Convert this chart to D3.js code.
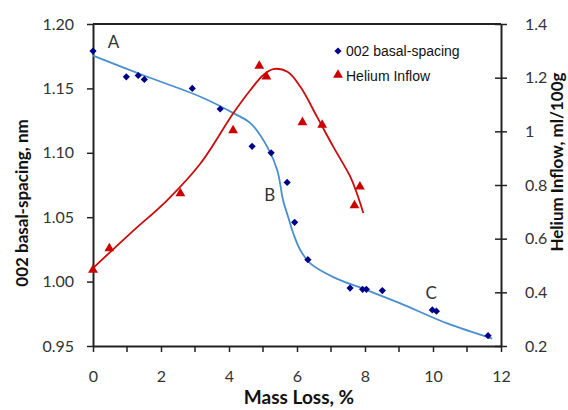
<!DOCTYPE html>
<html>

<head>
	<meta charset="utf-8">
	<title>Basal spacing and helium inflow</title>
	<style>
		body { margin: 0; background: #fff; }
		.tick text { font-family: Lato, "Open Sans", sans-serif; font-size: 16px; fill: #333; }
		.axis path, .axis line { stroke: #222; }
	</style>
</head>

<body>
	<svg width="568" height="410"></svg>

	<script src="https://cdnjs.cloudflare.com/ajax/libs/d3/7.8.5/d3.min.js"></script>
	<script>
		// 002 basal-spacing measurements
		var massLossD = [0, 0.98, 1.33, 1.51, 2.92, 3.74, 4.68, 5.24, 5.71, 5.93, 6.32, 7.56, 7.93, 8.04, 8.51, 9.98, 10.10, 11.62];
		var spacing = [1.179, 1.159, 1.160, 1.157, 1.150, 1.134, 1.105, 1.100, 1.077, 1.046, 1.017, 0.995, 0.994, 0.994, 0.993, 0.978, 0.977, 0.958];

		// helium inflow measurements
		var massLossHe = [0, 0.48, 2.57, 4.12, 4.89, 5.10, 6.16, 6.74, 7.69, 7.85];
		var helium = [0.48, 0.56, 0.765, 1.00, 1.24, 1.20, 1.03, 1.02, 0.72, 0.79];

		// fitted trend lines
		var fitDX = [0, 1.5, 3.16, 4.13, 4.63, 5.13, 5.42, 5.59, 5.74, 5.89, 6.10, 6.39, 7.07, 8.07, 9.04, 10.42, 11.74];
		var fitDY = [1.1755, 1.160, 1.1435, 1.1308, 1.123, 1.1044, 1.0865, 1.0632, 1.0502, 1.0375, 1.0243, 1.0142, 1.0035, 0.9932, 0.9831, 0.9675, 0.9558];
		var fitHX = [0, 1.1, 2.18, 3.16, 4.13, 4.63, 5.01, 5.30, 5.72, 6.10, 6.59, 7.07, 7.57, 7.76, 7.95];
		var fitHY = [0.49, 0.62, 0.743, 0.880, 1.068, 1.154, 1.210, 1.232, 1.222, 1.166, 1.054, 0.942, 0.830, 0.769, 0.696];

		// ticks
		var xTicks = [0, 2, 4, 6, 8, 10, 12];
		var xMinor = [1, 3, 5, 7, 9, 11];
		var leftTicks = [0.95, 1.00, 1.05, 1.10, 1.15, 1.20];
		var rightTicks = [0.2, 0.4, 0.6, 0.8, 1.0, 1.2, 1.4];
		var rightLabels = ["0.2", "0.4", "0.6", "0.8", "1", "1.2", "1.4"];

		var labels = [{ t: "A", x: 0.6, y: 1.1815 }, { t: "B", x: 5.2, y: 1.0625 }, { t: "C", x: 9.95, y: 0.9865 }];

		var svg = d3.select("svg");

		var margin = { top: 24, right: 67, bottom: 64, left: 93 };
		var width = +svg.attr("width") - margin.left - margin.right;
		var height = +svg.attr("height") - margin.top - margin.bottom;

		var x = d3.scaleLinear().domain([0, 12]).range([0, width]);
		var yL = d3.scaleLinear().domain([0.95, 1.20]).range([height, 0]);
		var yR = d3.scaleLinear().domain([0.2, 1.4]).range([height, 0]);

		var g = svg.append("g")
			.attr("transform", "translate(" + margin.left + "," + margin.top + ")");

		//top frame line
		g.append("line")
			.attr("x1", 0).attr("x2", width)
			.attr("y1", 0).attr("y2", 0)
			.attr("stroke", "#222").attr("stroke-width", 2);

		//x axis
		var xAxis = g.append("g")
			.attr("class", "axis")
			.attr("transform", "translate(0," + height + ")")
			.call(d3.axisBottom(x).tickValues(xTicks).tickSize(6).tickPadding(19).tickSizeOuter(0));
		xAxis.select(".domain").attr("stroke-width", 2);
		xAxis.selectAll(".tick line").attr("stroke-width", 1.5);
		g.selectAll(".xminor")
			.data(xMinor)
			.enter().append("line")
			.attr("class", "xminor")
			.attr("x1", function(d) { return x(d); })
			.attr("x2", function(d) { return x(d); })
			.attr("y1", height)
			.attr("y2", height + 6)
			.attr("stroke", "#222")
			.attr("stroke-width", 1.5);

		//left axis
		var lAxis = g.append("g")
			.attr("class", "axis")
			.call(d3.axisLeft(yL).tickValues(leftTicks).tickFormat(d3.format(".2f")).tickSize(6).tickPadding(13).tickSizeOuter(0));
		lAxis.select(".domain").attr("stroke-width", 2);
		lAxis.selectAll(".tick line").attr("stroke-width", 1.5);

		//right axis, ticks cross the line
		var rAxis = g.append("g")
			.attr("class", "axis")
			.attr("transform", "translate(" + width + ",0)")
			.call(d3.axisRight(yR).tickValues(rightTicks)
				.tickFormat(function(d, i) { return rightLabels[i]; })
				.tickSize(6).tickPadding(18).tickSizeOuter(0));
		rAxis.select(".domain").attr("stroke-width", 2);
		rAxis.selectAll(".tick line").attr("x1", -6).attr("stroke-width", 1.5);

		//fit curves
		var dLine = d3.line()
			.x(function(d, i) { return x(fitDX[i]); })
			.y(function(d, i) { return yL(d); })
			.curve(d3.curveCatmullRom);
		g.append("path")
			.attr("d", dLine(fitDY))
			.attr("fill", "none")
			.attr("stroke", "#4a8ed0")
			.attr("stroke-width", 1.8);

		var hLine = d3.line()
			.x(function(d, i) { return x(fitHX[i]); })
			.y(function(d, i) { return yR(d); })
			.curve(d3.curveCatmullRom);
		g.append("path")
			.attr("d", hLine(fitHY))
			.attr("fill", "none")
			.attr("stroke", "#cc0a0a")
			.attr("stroke-width", 1.8);

		//markers
		var diamond = d3.symbol().type(d3.symbolSquare).size(26);
		var triangle = d3.symbol().type(d3.symbolTriangle).size(42);

		g.selectAll(".dpt")
			.data(spacing)
			.enter().append("path")
			.attr("class", "dpt")
			.attr("d", diamond)
			.attr("transform", function(d, i) {
				return "translate(" + x(massLossD[i]) + "," + yL(d) + ") rotate(45)";
			})
			.attr("fill", "#000088");

		g.selectAll(".hpt")
			.data(helium)
			.enter().append("path")
			.attr("class", "hpt")
			.attr("d", triangle)
			.attr("transform", function(d, i) {
				return "translate(" + x(massLossHe[i]) + "," + (yR(d) - 1) + ")";
			})
			.attr("fill", "#cc0000");

		//point labels
		g.selectAll(".lbl")
			.data(labels)
			.enter().append("text")
			.attr("class", "lbl")
			.attr("x", function(d) { return x(d.x); })
			.attr("y", function(d) { return yL(d.y); })
			.attr("text-anchor", "middle")
			.attr("font-family", "Lato, sans-serif")
			.attr("font-size", 17)
			.attr("fill", "#333")
			.text(function(d) { return d.t; });

		//legend
		var legend = g.append("g").attr("transform", "translate(245,27)");
		legend.append("path").attr("d", diamond).attr("transform", "rotate(45)").attr("fill", "#000088");
		legend.append("text").attr("x", 8).attr("y", 5)
			.attr("font-family", "Liberation Sans, Arial, sans-serif").attr("font-size", 14).attr("fill", "#111")
			.text("002 basal-spacing");
		legend.append("path").attr("d", triangle).attr("transform", "translate(0,24)").attr("fill", "#cc0000");
		legend.append("text").attr("x", 8).attr("y", 30)
			.attr("font-family", "Liberation Sans, Arial, sans-serif").attr("font-size", 14).attr("fill", "#111")
			.text("Helium Inflow");

		//axis titles
		svg.append("text")
			.attr("x", 299)
			.attr("y", 404)
			.attr("text-anchor", "middle")
			.attr("font-family", "Lato, sans-serif")
			.attr("font-weight", "bold")
			.attr("font-size", 19)
			.attr("fill", "#111")
			.text("Mass Loss, %");

		svg.append("text")
			.attr("transform", "translate(28,203) rotate(-90)")
			.attr("text-anchor", "middle")
			.attr("font-family", "Lato, sans-serif")
			.attr("font-weight", "bold")
			.attr("font-size", 17)
			.attr("fill", "#111")
			.text("002 basal-spacing, nm");

		svg.append("text")
			.attr("transform", "translate(563,162) rotate(-90)")
			.attr("text-anchor", "middle")
			.attr("font-family", "Lato, sans-serif")
			.attr("font-weight", "bold")
			.attr("font-size", 17)
			.attr("fill", "#111")
			.text("Helium Inflow, ml/100g");
	</script>
</body>

</html>
